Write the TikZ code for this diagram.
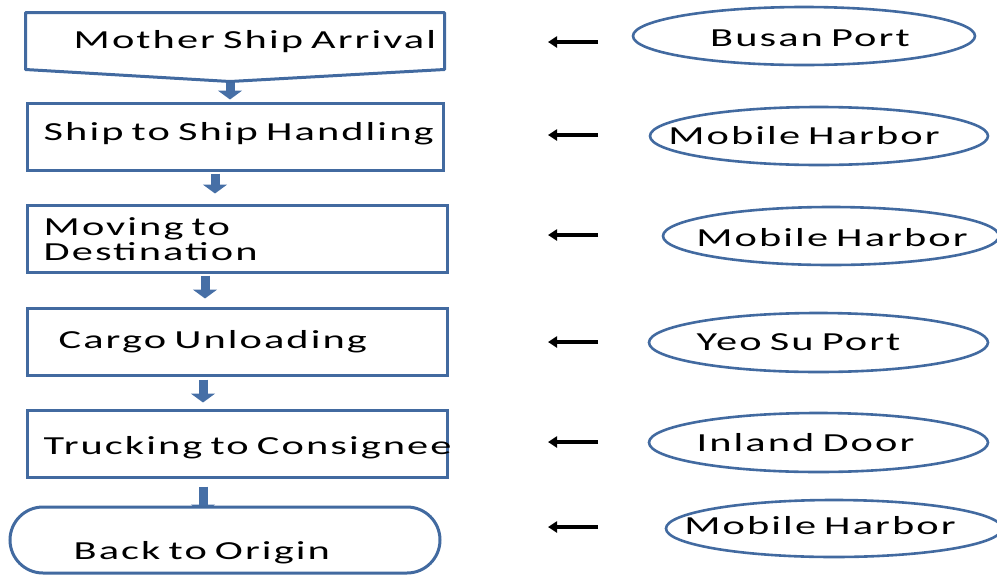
\documentclass[tikz,border=0pt]{standalone}
\usepackage{fontspec}
\setmainfont{Carlito}[FakeStretch=1.63,LetterSpace=8,WordSpace=0.7]
\usetikzlibrary{positioning,arrows.meta,shapes.geometric,backgrounds}
\definecolor{figBlue}{RGB}{66,106,160}
\definecolor{figBlueFill}{RGB}{70,111,166}

\begin{document}
\begin{tikzpicture}[
  x=1pt, y=-1pt, every node/.style={font=\fontsize{26}{25}\selectfont},
  stepbox/.style={draw=figBlue, line width=3pt, fill=white, minimum width=420pt,
                  minimum height=67pt, inner sep=0pt},
  endbox/.style={stepbox, minimum width=430pt, minimum height=66pt, rounded corners=33pt},
  place/.style={draw=figBlue, line width=2.6pt, ellipse, fill=white, inner sep=0pt},
  txt/.style={inner sep=0pt, text=black, align=left},
  flowarr/.style={line width=9pt, figBlueFill, -{Triangle[width=24pt,length=9pt]}},
  srcarr/.style={line width=4pt, black, -{Triangle[width=11pt,length=9pt]}}
]
\useasboundingbox (0,0) rectangle (997,574);

% process column
\node[stepbox, draw=none, minimum width=416pt, minimum height=54pt] (arrival) at (235,41) {};
\coordinate (tip) at ([xshift=-5pt,yshift=-12pt]arrival.south);
\draw[figBlue, line width=3pt, line join=round] (arrival.north west) -- (arrival.north east)
      -- (arrival.south east) -- (tip) -- (arrival.south west) -- cycle;
\node[txt, anchor=west] (arrivalt) at ([xshift=48pt,yshift=-1pt]arrival.west) {Mother Ship Arrival};

\node[stepbox, minimum width=416pt] (ship) at (235,136.5) {};
\node[txt, anchor=west] (shipt) at ([xshift=18pt,yshift=3pt]ship.west) {Ship to Ship Handling};

\node[stepbox] (moving) at (237,238.5) {};
\node[txt, anchor=west] (movingt) at ([xshift=18pt,yshift=-1pt]moving.west) {Moving to\\Destination};

\node[stepbox] (cargo) at (237,341.5) {};
\node[txt, anchor=west] (cargot) at ([xshift=33pt]cargo.west) {Cargo Unloading};

\node[stepbox] (trucking) at (237,443.5) {};
\node[txt, anchor=west] (truckingt) at ([xshift=18pt,yshift=-4pt]trucking.west) {Trucking to Consignee};

\node[endbox] (origin) at (225,540) {};
\node[txt, anchor=west] (origint) at ([xshift=65pt,yshift=-13pt]origin.west) {Back to Origin};

\begin{scope}[on background layer]
  \draw[flowarr, shorten >=2pt] (tip) -- ([xshift=-5pt]ship.north);
  \draw[flowarr, shorten <=2pt, shorten >=10pt] ([xshift=-20pt]ship.south) -- ([xshift=-22pt]moving.north);
  \draw[flowarr, shorten <=2pt, shorten >=8pt] ([xshift=-32pt]moving.south) -- ([xshift=-32pt]cargo.north);
  \draw[flowarr, shorten <=3pt, shorten >=6pt] ([xshift=-34pt]cargo.south) -- ([xshift=-34pt]trucking.north);
  \draw[flowarr, shorten <=8pt, shorten >=-8pt] ([xshift=-34pt]trucking.south) -- ([xshift=-22pt]origin.north);
\end{scope}

% location column
\node[place, minimum width=342pt, minimum height=58pt] (busan) at (804,36) {};
\node[txt] (busant) at ([xshift=6pt,yshift=-2pt]busan.center) {Busan Port};

\node[place, minimum width=338pt, minimum height=58pt] (harborA) at (819,136) {};
\node[txt] (harborAt) at ([xshift=-15pt]harborA.center) {Mobile Harbor};

\node[place, minimum width=336pt, minimum height=58pt] (harborB) at (831,236) {};
\node[txt] (harborBt) at ([xshift=1pt,yshift=-2pt]harborB.center) {Mobile Harbor};

\node[place, minimum width=339pt, minimum height=59pt] (yeosu) at (818.5,342.5) {};
\node[txt] (yeosut) at ([xshift=-20pt]yeosu.center) {Yeo Su Port};

\node[place, minimum width=339pt, minimum height=59pt] (inland) at (818.5,442.5) {};
\node[txt] (inlandt) at ([xshift=-13pt]inland.center) {Inland Door};

\node[place, minimum width=336pt, minimum height=57pt] (harborC) at (834,528.5) {};
\node[txt] (harborCt) at ([xshift=-14pt,yshift=3pt]harborC.center) {Mobile Harbor};

\foreach \ya [count=\i] in {42,135,235,342,442,527} {
  \coordinate (from\i) at (598,\ya);
  \coordinate (to\i) at (548,\ya);
  \draw[srcarr] (from\i) -- (to\i);
}
\end{tikzpicture}
\end{document}
